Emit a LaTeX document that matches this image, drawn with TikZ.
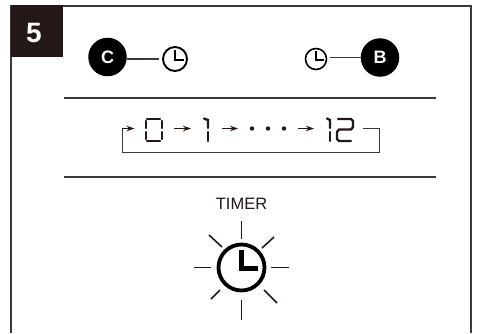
\documentclass[tikz,border=0pt]{standalone}
\usepackage{fontspec}
\setmainfont{Liberation Sans}
\usetikzlibrary{arrows.meta,calc}
\definecolor{boxdark}{HTML}{231815}
\definecolor{rulegray}{HTML}{3E3A39}
\tikzset{
  badge/.style={circle,fill=black,text=white,inner sep=0pt,outer sep=0pt,minimum size=38.5pt,font=\bfseries\fontsize{18}{18}\selectfont},
  clockface/.style={circle,draw=black,inner sep=0pt,outer sep=0pt},
  hand/.style={draw=black,line cap=butt},
  seg/.style={draw=boxdark,line width=2.4pt,line cap=round},
  flow/.style={draw=rulegray,line width=1pt},
  flowtip/.style={draw=boxdark,line width=1pt,-{Stealth[length=8pt,width=5.5pt,inset=2.5pt]}},
  ray/.style={draw=boxdark,line width=1.6pt},
}
\begin{document}
\begin{tikzpicture}[x=1pt,y=-1pt]
      \useasboundingbox (0,0) rectangle (479,333);

      % frame and number
      \draw[rulegray,line width=1.2pt] (11,333) -- (11,6) -- (471,6) -- (471,333);
      \node[fill=boxdark,minimum size=52pt,inner sep=0pt,outer sep=0pt](numbox) at (37,31){};
      \node[text=white,inner sep=0pt,font=\bfseries\fontsize{28}{28}\selectfont](num) at (34,33){5};

      % top row
      \node[badge](c) at (107.5,57){C};
      \node[clockface,line width=1.9pt,minimum size=24pt](clockc) at (175,59){};
      \draw[rulegray,line width=1.1pt,shorten >=4pt] (c.east |- clockc.west) -- (clockc.west);
      \draw[hand,line width=2pt] (175,49.5) -- (175,60) -- (183.5,60);

      \node[badge](b) at (380,57.5){B};
      \node[clockface,line width=1.6pt,minimum size=21pt](clockb) at (316,59){};
      \draw[rulegray,line width=1.1pt,shorten <=3pt] (clockb.east |- b.west) -- (b.west);
      \draw[hand,line width=1.8pt] (316,51) -- (316,60) -- (324,60);

      % rules
      \coordinate(r1) at (64,98);
      \coordinate(r2) at (436,98);
      \coordinate(r3) at (64,177);
      \coordinate(r4) at (436,177);
      \draw[rulegray,line width=1.2pt] (r1) -- (r2);
      \draw[rulegray,line width=1.2pt] (r3) -- (r4);

      % display
      \draw[seg] (147,119) -- (160,119);
      \draw[seg] (147,141) -- (160,141);
      \draw[seg] (146,121) -- (146,128);
      \draw[seg] (146,132) -- (146,139);
      \draw[seg] (162,121) -- (162,128);
      \draw[seg] (162,132) -- (162,139);
      \draw[seg] (204,118.5) -- (208,120) -- (208,128);
      \draw[seg] (208,132) -- (208,141);
      \draw[seg] (327,118.5) -- (330,120) -- (330,128);
      \draw[seg] (330,132) -- (330,141);
      \draw[seg] (338,119) -- (351,119) -- (353,121) -- (353,127) -- (351,129.5) -- (339,129.5) -- (337,132) -- (337,139) -- (339,141) -- (351,141);

      \coordinate(a0) at (174,128.5);
      \coordinate(a1) at (191,128.5);
      \coordinate(a2) at (222,128.5);
      \coordinate(a3) at (238,128.5);
      \coordinate(a4) at (298,128.5);
      \coordinate(a5) at (314,128.5);
      \draw[flowtip] (a0) -- (a1);
      \draw[flowtip] (a2) -- (a3);
      \draw[flowtip] (a4) -- (a5);
      \foreach \x in {252,268,284}
        \fill[boxdark] (\x,128.5) circle (2.2pt);

      \coordinate(l1) at (363,128.5);
      \coordinate(l2) at (379,128.5);
      \coordinate(l3) at (379,152);
      \coordinate(l4) at (122,152);
      \coordinate(l5) at (122,128.5);
      \coordinate(l6) at (134.5,128.5);
      \draw[flow] (l1) -- (l2) -- (l3) -- (l4) -- (l5);
      \draw[flowtip] (l5) -- (l6);

      % timer
      \node[text=boxdark,inner sep=0pt,font=\fontsize{16.5}{16.5}\selectfont](timer) at (241.5,204){TIMER};
      \node[clockface,line width=3.8pt,minimum size=46pt](clockt) at (241.5,267.5){};
      \draw[hand,line width=4.6pt] (241.5,250) -- (241.5,268.5) -- (257.5,268.5);
      \foreach \xa/\ya/\xb/\yb in {241.5/221/241.5/239,241.5/300/241.5/320,194/267.5/211/267.5,271/267.5/289/267.5,209/235/222/247,262/248/274/237,211/299/220/290,264/290/277/303}
        \draw[ray] (\xa,\ya) -- (\xb,\yb);
\end{tikzpicture}
\end{document}
